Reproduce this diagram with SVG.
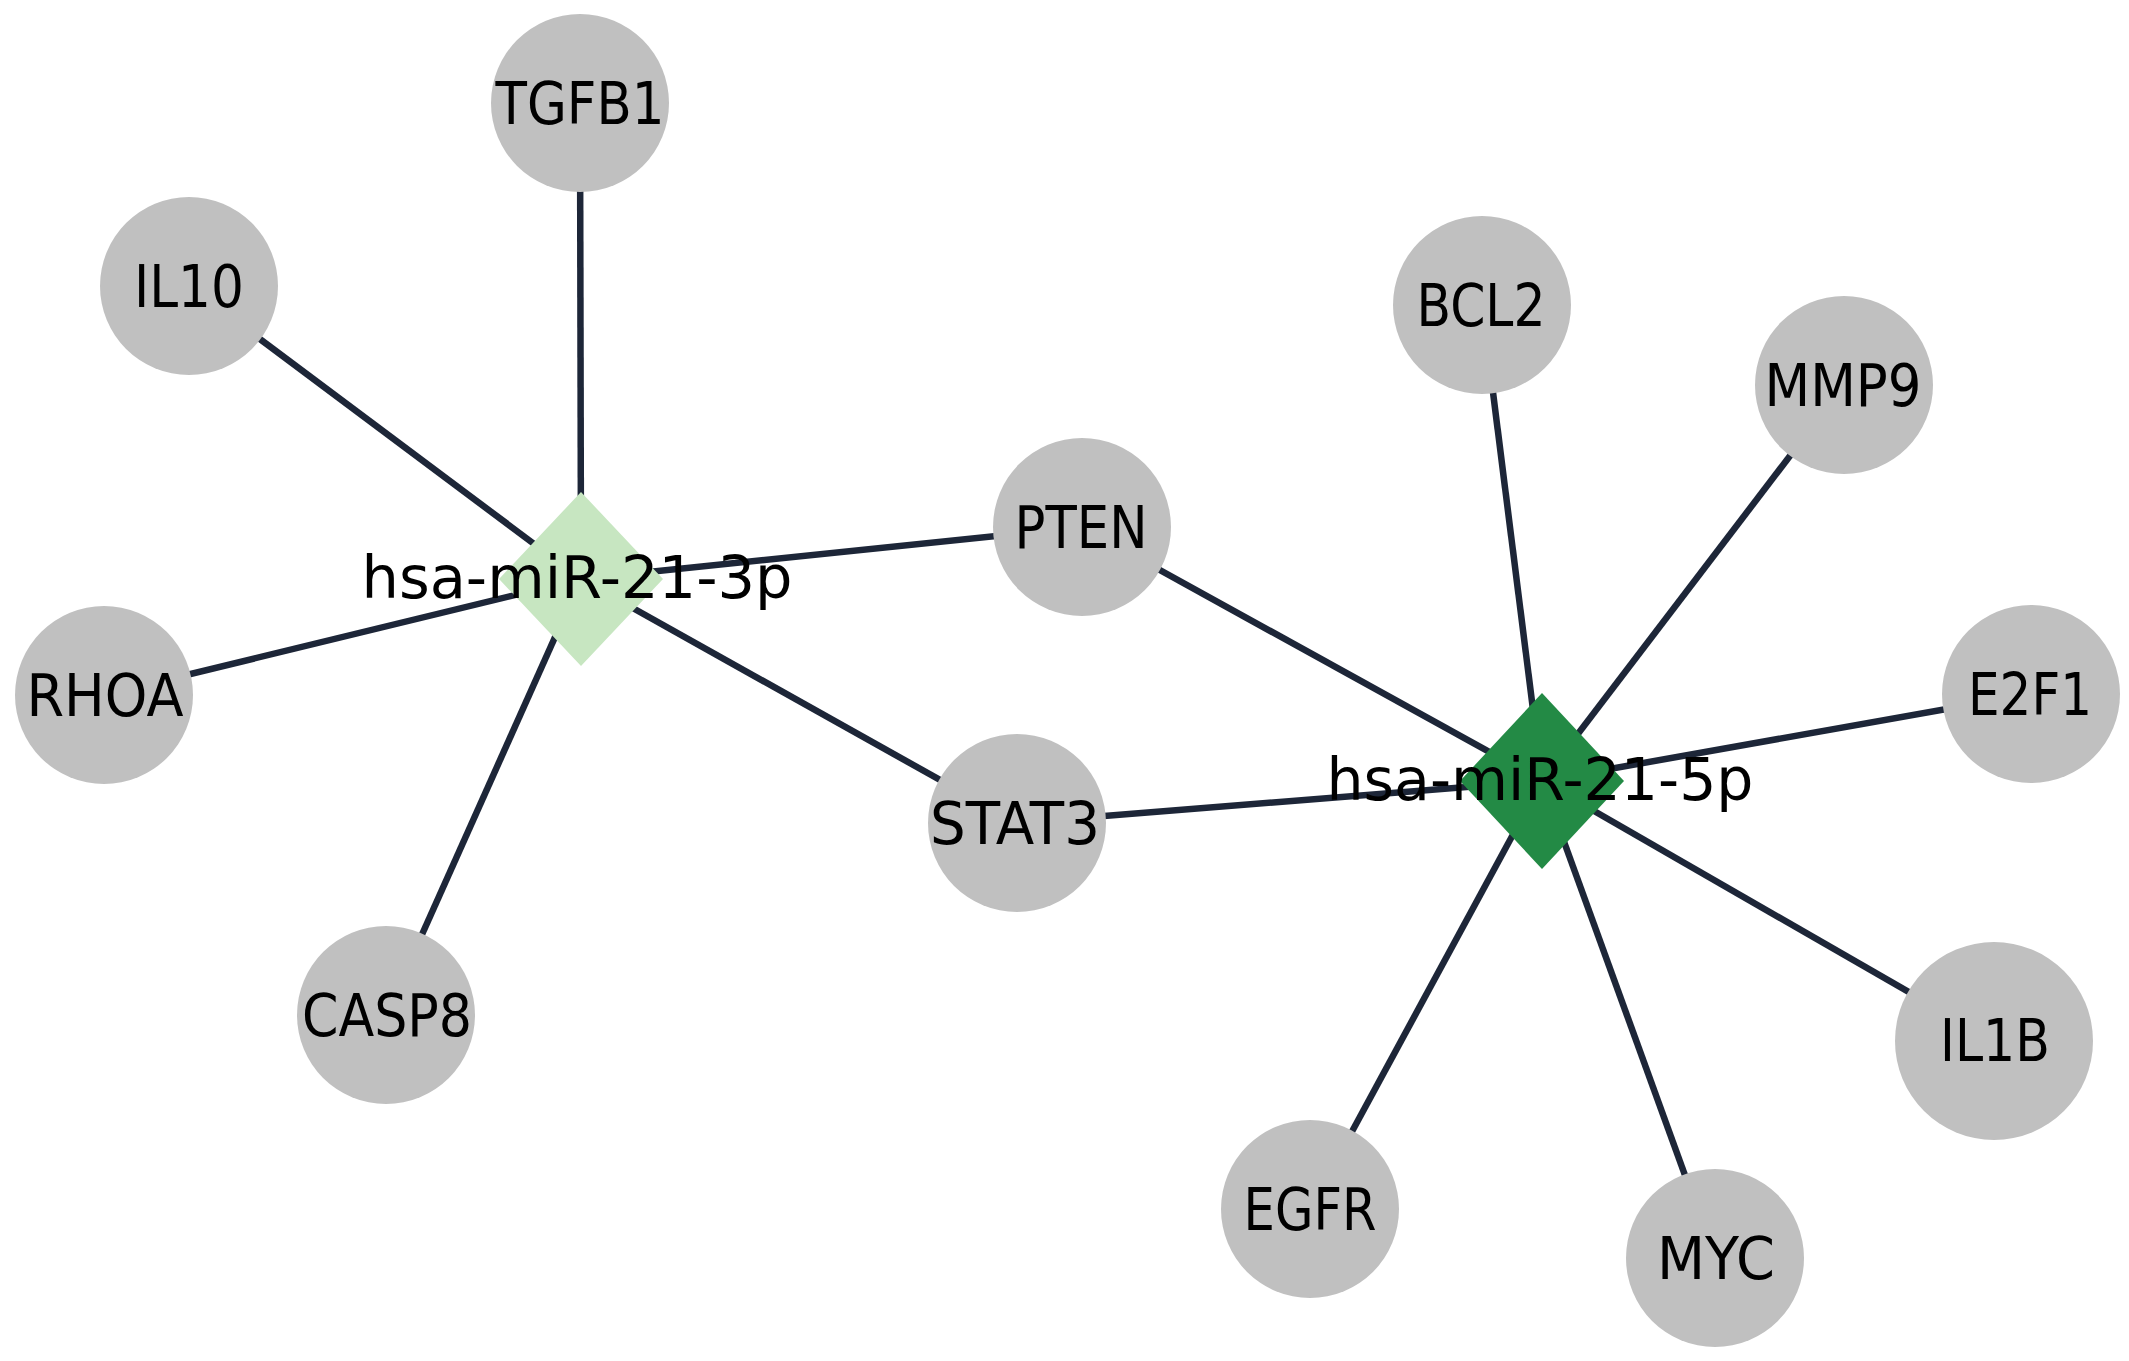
<svg xmlns="http://www.w3.org/2000/svg" width="2129" height="1361" viewBox="0 0 2129 1361">
<style>
.edge{stroke:#1d2638;stroke-width:6.5;fill:none}
.gene{fill:#c0c0c0}
.mir3{fill:#c7e6c1}
.mir5{fill:#238a45}
.lbl{font-family:"DejaVu Sans","Liberation Sans",sans-serif;font-size:58px;fill:#000;text-anchor:middle}
</style>
<rect width="2129" height="1361" fill="#ffffff"/>
<g id="edges">
<line class="edge" x1="581" y1="579" x2="580" y2="103"/>
<line class="edge" x1="581" y1="579" x2="189" y2="286"/>
<line class="edge" x1="581" y1="579" x2="104" y2="695"/>
<line class="edge" x1="581" y1="579" x2="386" y2="1015"/>
<line class="edge" x1="581" y1="579" x2="1082" y2="527"/>
<line class="edge" x1="581" y1="579" x2="1017" y2="823"/>
<line class="edge" x1="1542" y1="781" x2="1082" y2="527"/>
<line class="edge" x1="1542" y1="781" x2="1017" y2="823"/>
<line class="edge" x1="1542" y1="781" x2="1482" y2="305"/>
<line class="edge" x1="1542" y1="781" x2="1844" y2="385"/>
<line class="edge" x1="1542" y1="781" x2="2031" y2="694"/>
<line class="edge" x1="1542" y1="781" x2="1994" y2="1041"/>
<line class="edge" x1="1542" y1="781" x2="1715" y2="1258"/>
<line class="edge" x1="1542" y1="781" x2="1310" y2="1209"/>
</g>
<g id="node-TGFB1"><circle class="gene" cx="580" cy="103" r="89"/><text class="lbl" x="580" y="124" textLength="169" lengthAdjust="spacingAndGlyphs">TGFB1</text></g>
<g id="node-IL10"><circle class="gene" cx="189" cy="286" r="89"/><text class="lbl" x="189" y="307" textLength="110" lengthAdjust="spacingAndGlyphs">IL10</text></g>
<g id="node-RHOA"><circle class="gene" cx="104" cy="695" r="89"/><text class="lbl" x="105" y="716" textLength="157" lengthAdjust="spacingAndGlyphs">RHOA</text></g>
<g id="node-CASP8"><circle class="gene" cx="386" cy="1015" r="89"/><text class="lbl" x="387" y="1036" textLength="170" lengthAdjust="spacingAndGlyphs">CASP8</text></g>
<g id="node-PTEN"><circle class="gene" cx="1082" cy="527" r="89"/><text class="lbl" x="1081" y="548" textLength="133" lengthAdjust="spacingAndGlyphs">PTEN</text></g>
<g id="node-STAT3"><circle class="gene" cx="1017" cy="823" r="89"/><text class="lbl" x="1015" y="844" textLength="170" lengthAdjust="spacingAndGlyphs">STAT3</text></g>
<g id="node-BCL2"><circle class="gene" cx="1482" cy="305" r="89"/><text class="lbl" x="1481" y="326" textLength="129" lengthAdjust="spacingAndGlyphs">BCL2</text></g>
<g id="node-MMP9"><circle class="gene" cx="1844" cy="385" r="89"/><text class="lbl" x="1843" y="406" textLength="157" lengthAdjust="spacingAndGlyphs">MMP9</text></g>
<g id="node-E2F1"><circle class="gene" cx="2031" cy="694" r="89"/><text class="lbl" x="2030" y="715" textLength="124" lengthAdjust="spacingAndGlyphs">E2F1</text></g>
<g id="node-IL1B"><circle class="gene" cx="1994" cy="1041" r="99"/><text class="lbl" x="1995" y="1061" textLength="110" lengthAdjust="spacingAndGlyphs">IL1B</text></g>
<g id="node-MYC"><circle class="gene" cx="1715" cy="1258" r="89"/><text class="lbl" x="1716" y="1279" textLength="118" lengthAdjust="spacingAndGlyphs">MYC</text></g>
<g id="node-EGFR"><circle class="gene" cx="1310" cy="1209" r="89"/><text class="lbl" x="1310" y="1230" textLength="133" lengthAdjust="spacingAndGlyphs">EGFR</text></g>
<g id="node-hsa-miR-21-3p"><polygon class="mir3" points="581,492 663,579 581,666 499,579"/><text class="lbl" x="577" y="598" textLength="431" lengthAdjust="spacingAndGlyphs">hsa-miR-21-3p</text></g>
<g id="node-hsa-miR-21-5p"><polygon class="mir5" points="1542,693 1624,781 1542,869 1460,781"/><text class="lbl" x="1540" y="800" textLength="427" lengthAdjust="spacingAndGlyphs">hsa-miR-21-5p</text></g>
</svg>
